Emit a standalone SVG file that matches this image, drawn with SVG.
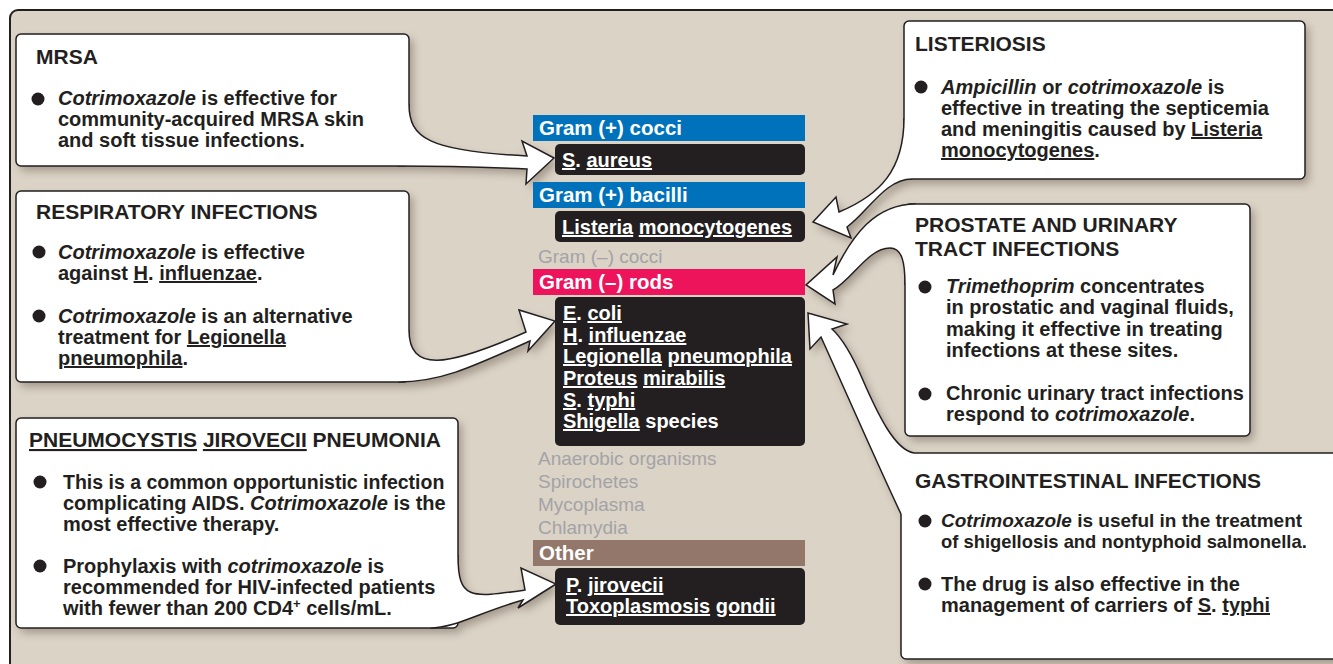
<svg xmlns="http://www.w3.org/2000/svg" xmlns:xlink="http://www.w3.org/1999/xlink" width="1333" height="664" viewBox="0 0 1333 664">
<style>
text{font-family:'Liberation Sans',Arial,sans-serif}
.t{font-weight:700;font-size:21px;fill:#231F20}
.b{font-weight:700;font-size:20px;fill:#231F20}
.g{font-weight:700;font-size:20.5px;fill:#fff}
.d{font-weight:700;font-size:20px;fill:#fff}
.gr{font-weight:400;font-size:19px;fill:#A3A3A6}
.i{font-style:italic}
.u{text-decoration:underline}
.box{fill:#fff;stroke:#231F20;stroke-width:1.5}
.tf{fill:#fff;stroke:none}
.tl{fill:none;stroke:#231F20;stroke-width:1.5;stroke-linejoin:miter}
.dot{fill:#231F20}
.dk{fill:#231F20}
</style>
<defs>
<filter id="blur" x="-10%" y="-10%" width="120%" height="120%"><feGaussianBlur stdDeviation="4"/></filter>
<rect id="b-mrsa" x="16" y="34" width="393" height="132" rx="5"/>
<rect id="b-resp" x="16" y="191" width="393" height="191" rx="5"/>
<rect id="b-pcp" x="16" y="418" width="442" height="210" rx="5"/>
<rect id="b-list" x="904" y="21" width="401" height="158" rx="5"/>
<rect id="b-pros" x="905" y="204" width="345" height="232" rx="5"/>
<rect id="b-gi" x="901" y="453" width="460" height="206" rx="5"/>
<path id="f-mrsa" d="M409,104 C409,138 428,151 527,156 L522,141 L554,158 L526,184 L527,169 C480,167 440,166 398,166 L398,162 L405,162 L405,104 Z"/>
<path id="f-resp" d="M409,330 C409,372 445,368 526,332 L519,310 L555,321 L528,351 L530,341 C470,368 440,382 398,382 L398,378 L405,378 L405,330 Z"/>
<path id="f-pcp" d="M458,555 C458,600 470,598 525,590 L521,568 L556,584 L518,608 L523,600 C480,612 455,628 430,628 L430,624 L454,624 L454,555 Z"/>
<path id="f-list" d="M904,118 C904,170 880,195 839,212 L836,197 L813,222 L851,238 L847,227 C868,212 885,179 912,179 L912,175 L908,175 L908,118 Z"/>
<path id="f-pros" d="M916,204 C875,204 852,235 833,275 L837,257 L806,285 L835,304 L833,290 C852,280 868,248 890,248 C902,248 905,262 905,285 L909,285 L909,208 L916,208 Z"/>
<path id="f-gi" d="M914,453 C895,450 878,415 862,378 C852,355 842,338 832,329 L847,324 L808,313 L810,349 L821,337 C845,390 880,470 901,514 L905,514 L905,457 L914,457 Z"/>
</defs>

<rect id="background" x="10" y="10" width="1340" height="670" rx="8" fill="#DBD3C6" stroke="#231F20" stroke-width="2"/>

<g id="shadows" transform="translate(4,5)" fill="#5e5244" opacity="0.45" filter="url(#blur)">
<use xlink:href="#b-mrsa"/><use xlink:href="#f-mrsa"/>
<use xlink:href="#b-resp"/><use xlink:href="#f-resp"/>
<use xlink:href="#b-pcp"/><use xlink:href="#f-pcp"/>
<use xlink:href="#b-list"/><use xlink:href="#f-list"/>
<use xlink:href="#b-pros"/><use xlink:href="#f-pros"/>
<use xlink:href="#b-gi"/><use xlink:href="#f-gi"/>
</g>

<g id="mrsa">
<use xlink:href="#b-mrsa" class="box"/>
<text class="t" x="36" y="64">MRSA</text>
<circle class="dot" cx="38" cy="99" r="6.5"/>
<text class="b" x="58" y="105"><tspan class="i">Cotrimoxazole</tspan> is effective for</text>
<text class="b" x="58" y="126">community-acquired MRSA skin</text>
<text class="b" x="58" y="147">and soft tissue infections.</text>
</g>

<g id="respiratory">
<use xlink:href="#b-resp" class="box"/>
<text class="t" x="36" y="219">RESPIRATORY INFECTIONS</text>
<circle class="dot" cx="39" cy="252" r="6.5"/>
<text class="b" x="58" y="259"><tspan class="i">Cotrimoxazole</tspan> is effective</text>
<text class="b" x="58" y="280">against <tspan class="u">H</tspan>. <tspan class="u">influenzae</tspan>.</text>
<circle class="dot" cx="39" cy="316" r="6.5"/>
<text class="b" x="58" y="323"><tspan class="i">Cotrimoxazole</tspan> is an alternative</text>
<text class="b" x="58" y="344">treatment for <tspan class="u">Legionella</tspan></text>
<text class="b" x="58" y="365"><tspan class="u">pneumophila</tspan>.</text>
</g>

<g id="pcp">
<use xlink:href="#b-pcp" class="box"/>
<text class="t" x="29" y="447"><tspan class="u">PNEUMOCYSTIS</tspan> <tspan class="u">JIROVECII</tspan> PNEUMONIA</text>
<circle class="dot" cx="40" cy="482" r="6.5"/>
<text class="b" x="63" y="489" style="font-size:19.5px">This is a common opportunistic infection</text>
<text class="b" x="63" y="510">complicating AIDS. <tspan class="i">Cotrimoxazole</tspan> is the</text>
<text class="b" x="63" y="531">most effective therapy.</text>
<circle class="dot" cx="40" cy="566" r="6.5"/>
<text class="b" x="63" y="573">Prophylaxis with <tspan class="i">cotrimoxazole</tspan> is</text>
<text class="b" x="63" y="594">recommended for HIV-infected patients</text>
<text class="b" x="63" y="615">with fewer than 200 CD4<tspan font-size="13" dy="-7">+</tspan><tspan dy="7"> cells/mL.</tspan></text>
</g>

<g id="listeriosis">
<use xlink:href="#b-list" class="box"/>
<text class="t" x="915" y="51">LISTERIOSIS</text>
<circle class="dot" cx="921" cy="87" r="6.5"/>
<text class="b" x="941" y="94"><tspan class="i">Ampicillin</tspan> or <tspan class="i">cotrimoxazole</tspan> is</text>
<text class="b" x="941" y="115">effective in treating the septicemia</text>
<text class="b" x="941" y="136">and meningitis caused by <tspan class="u">Listeria</tspan></text>
<text class="b" x="941" y="157"><tspan class="u">monocytogenes</tspan>.</text>
</g>

<g id="prostate">
<use xlink:href="#b-pros" class="box"/>
<text class="t" x="915" y="232">PROSTATE AND URINARY</text>
<text class="t" x="915" y="256">TRACT INFECTIONS</text>
<circle class="dot" cx="925" cy="287" r="6.5"/>
<text class="b" x="946" y="293"><tspan class="i">Trimethoprim</tspan> concentrates</text>
<text class="b" x="946" y="314">in prostatic and vaginal fluids,</text>
<text class="b" x="946" y="336">making it effective in treating</text>
<text class="b" x="946" y="357">infections at these sites.</text>
<circle class="dot" cx="925" cy="394" r="6.5"/>
<text class="b" x="946" y="400">Chronic urinary tract infections</text>
<text class="b" x="946" y="421">respond to <tspan class="i">cotrimoxazole</tspan>.</text>
</g>

<g id="gastrointestinal">
<use xlink:href="#b-gi" class="box"/>
<text class="t" x="915" y="488">GASTROINTESTINAL INFECTIONS</text>
<circle class="dot" cx="925" cy="521" r="6.5"/>
<text class="b" x="941" y="527" style="font-size:19px"><tspan class="i">Cotrimoxazole</tspan> is useful in the treatment</text>
<text class="b" x="941" y="548" style="font-size:18.4px">of shigellosis and nontyphoid salmonella.</text>
<circle class="dot" cx="925" cy="584" r="6.5"/>
<text class="b" x="941" y="591">The drug is also effective in the</text>
<text class="b" x="941" y="612">management of carriers of <tspan class="u">S</tspan>. <tspan class="u">typhi</tspan></text>
</g>

<g id="gram-pos-cocci">
<rect x="533" y="115" width="272" height="26" fill="#0072BC"/>
<text class="g" x="539" y="135">Gram (+) cocci</text>
</g>
<g id="s-aureus">
<rect class="dk" x="555" y="144" width="250" height="31" rx="5"/>
<text class="d" x="562" y="167"><tspan class="u">S</tspan>. <tspan class="u">aureus</tspan></text>
</g>
<g id="gram-pos-bacilli">
<rect x="533" y="182" width="272" height="26" fill="#0072BC"/>
<text class="g" x="539" y="202">Gram (+) bacilli</text>
</g>
<g id="listeria">
<rect class="dk" x="555" y="211" width="250" height="31" rx="5"/>
<text class="d" x="562" y="234"><tspan class="u">Listeria</tspan> <tspan class="u">monocytogenes</tspan></text>
</g>
<g id="gram-neg-cocci">
<text class="gr" x="538" y="263">Gram (–) cocci</text>
</g>
<g id="gram-neg-rods">
<rect x="533" y="269" width="272" height="26" fill="#ED145B"/>
<text class="g" x="539" y="289">Gram (–) rods</text>
</g>
<g id="gram-neg-organisms">
<rect class="dk" x="555" y="297" width="250" height="149" rx="5"/>
<text class="d" x="563" y="320"><tspan class="u">E</tspan>. <tspan class="u">coli</tspan></text>
<text class="d" x="563" y="342"><tspan class="u">H</tspan>. <tspan class="u">influenzae</tspan></text>
<text class="d" x="563" y="363"><tspan class="u">Legionella</tspan> <tspan class="u">pneumophila</tspan></text>
<text class="d" x="563" y="385"><tspan class="u">Proteus</tspan> <tspan class="u">mirabilis</tspan></text>
<text class="d" x="563" y="407"><tspan class="u">S</tspan>. <tspan class="u">typhi</tspan></text>
<text class="d" x="563" y="428"><tspan class="u">Shigella</tspan> species</text>
</g>
<g id="other-groups">
<text class="gr" x="538" y="465">Anaerobic organisms</text>
<text class="gr" x="538" y="488">Spirochetes</text>
<text class="gr" x="538" y="511">Mycoplasma</text>
<text class="gr" x="538" y="534">Chlamydia</text>
</g>
<g id="other">
<rect x="533" y="540" width="272" height="26" fill="#93776B"/>
<text class="g" x="539" y="560">Other</text>
</g>
<g id="other-organisms">
<rect class="dk" x="555" y="568" width="250" height="57" rx="5"/>
<text class="d" x="566" y="592"><tspan class="u">P</tspan>. <tspan class="u">jirovecii</tspan></text>
<text class="d" x="566" y="613"><tspan class="u">Toxoplasmosis</tspan> <tspan class="u">gondii</tspan></text>
</g>

<g id="connectors">
<use xlink:href="#f-mrsa" class="tf"/>
<path class="tl" d="M409,104 C409,138 428,151 527,156 L522,141 L554,158 L526,184 L527,169 C480,167 440,166 398,166"/>
<use xlink:href="#f-resp" class="tf"/>
<path class="tl" d="M409,330 C409,372 445,368 526,332 L519,310 L555,321 L528,351 L530,341 C470,368 440,382 398,382"/>
<use xlink:href="#f-pcp" class="tf"/>
<path class="tl" d="M458,555 C458,600 470,598 525,590 L521,568 L556,584 L518,608 L523,600 C480,612 455,628 430,628"/>
<use xlink:href="#f-list" class="tf"/>
<path class="tl" d="M904,118 C904,170 880,195 839,212 L836,197 L813,222 L851,238 L847,227 C868,212 885,179 912,179"/>
<use xlink:href="#f-pros" class="tf"/>
<path class="tl" d="M916,204 C875,204 852,235 833,275 L837,257 L806,285 L835,304 L833,290 C852,280 868,248 890,248 C902,248 905,262 905,285"/>
<use xlink:href="#f-gi" class="tf"/>
<path class="tl" d="M914,453 C895,450 878,415 862,378 C852,355 842,338 832,329 L847,324 L808,313 L810,349 L821,337 C845,390 880,470 901,514"/>
</g>
</svg>
